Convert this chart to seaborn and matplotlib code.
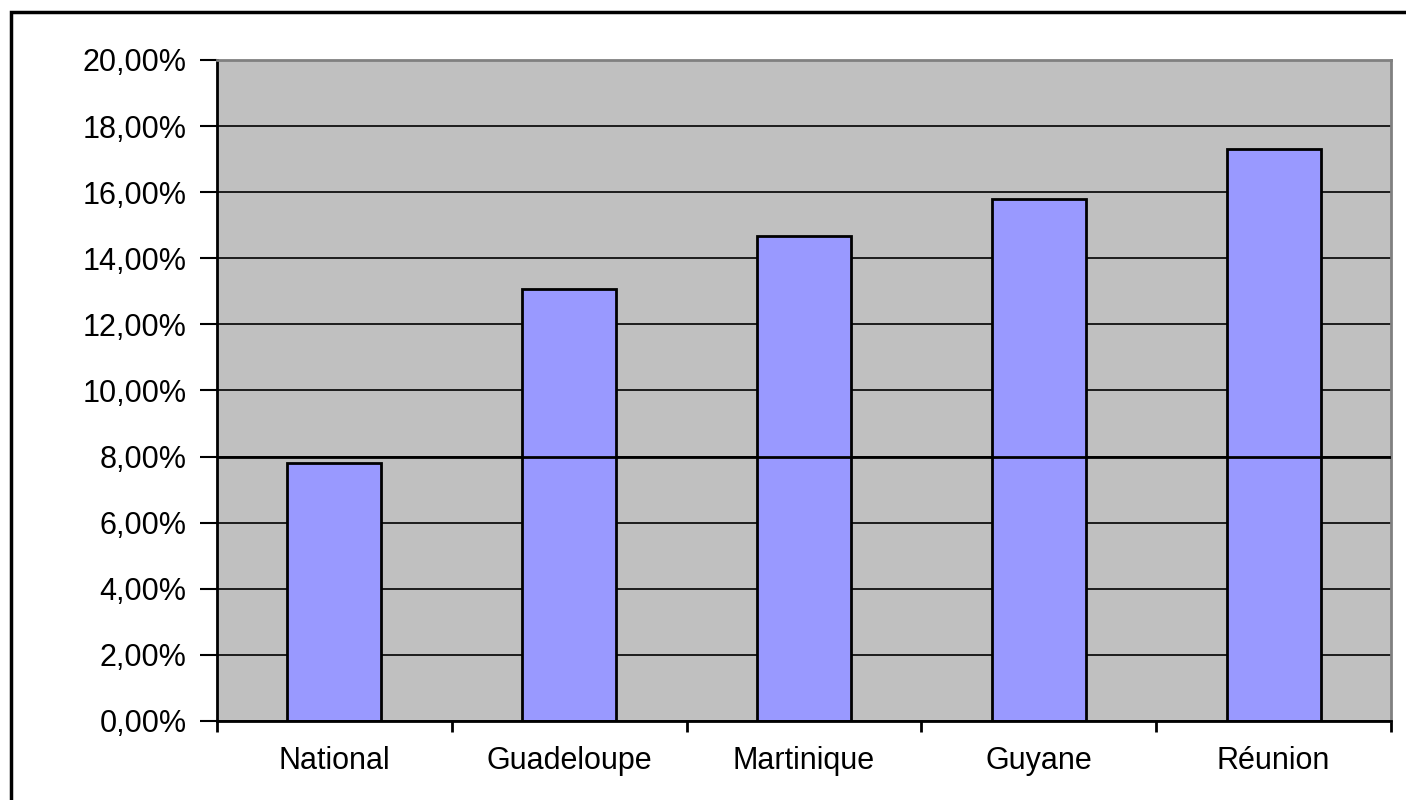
import matplotlib
matplotlib.use("Agg")
import matplotlib.pyplot as plt
import matplotlib.patches as mpatches
from matplotlib.ticker import FuncFormatter, FixedLocator
import seaborn as sns
import pandas as pd

# data
regions = ["National", "Guadeloupe", "Martinique", "Guyane", "Réunion"]
rates = [7.81, 13.08, 14.68, 15.79, 17.31]
reference_rate = 8.0

df = pd.DataFrame({"region": regions, "rate": rates})

sns.set_style("white")
plt.rcParams['font.family'] = ['Liberation Sans', 'DejaVu Sans']

fig = plt.figure(figsize=(14.06, 8), dpi=100)
ax = fig.add_axes([0.1543, 0.09875, 0.8350, 0.82625])
ax.set_facecolor("#C0C0C0")

sns.barplot(data=df, x="region", y="rate", color="#9999FF", width=0.4,
            edgecolor="black", linewidth=2, saturation=1, ax=ax)

# reference line over the bars
ax.axhline(reference_rate, color="black", lw=2, zorder=5)

ax.set_xlim(-0.5, len(regions) - 0.5)
ax.set_ylim(0, 20)
ax.set_yticks(range(0, 21, 2))
ax.yaxis.set_major_formatter(FuncFormatter(lambda v, p: f"{v:.2f}%".replace(".", ",")))
ax.yaxis.grid(True, color="black", lw=1.2)
ax.set_axisbelow(True)

# tick marks between categories, labels centred
ax.xaxis.set_minor_locator(FixedLocator([i - 0.5 for i in range(len(regions) + 1)]))
ax.tick_params(axis="x", which="major", length=0, pad=18, labelsize=22, labelcolor="black")
ax.tick_params(axis="x", which="minor", length=8, width=2, direction="out", color="black", bottom=True)
ax.tick_params(axis="y", length=12, width=1.5, direction="out", color="black", pad=10,
               labelsize=22, labelcolor="black", left=True)

ax.set_xlabel("")
ax.set_ylabel("")

for s in ["left", "bottom"]:
    ax.spines[s].set_color("black")
    ax.spines[s].set_linewidth(2)
for s in ["top", "right"]:
    ax.spines[s].set_color("#808080")
    ax.spines[s].set_linewidth(2)

# outer chart border
fig.patches.append(mpatches.Rectangle((11 / 1406, -0.1), 1.2, 1.1 - 12 / 800,
                                      transform=fig.transFigure, fill=False,
                                      edgecolor="black", lw=2.5))

fig.savefig("out.png", dpi=100, facecolor="white")
